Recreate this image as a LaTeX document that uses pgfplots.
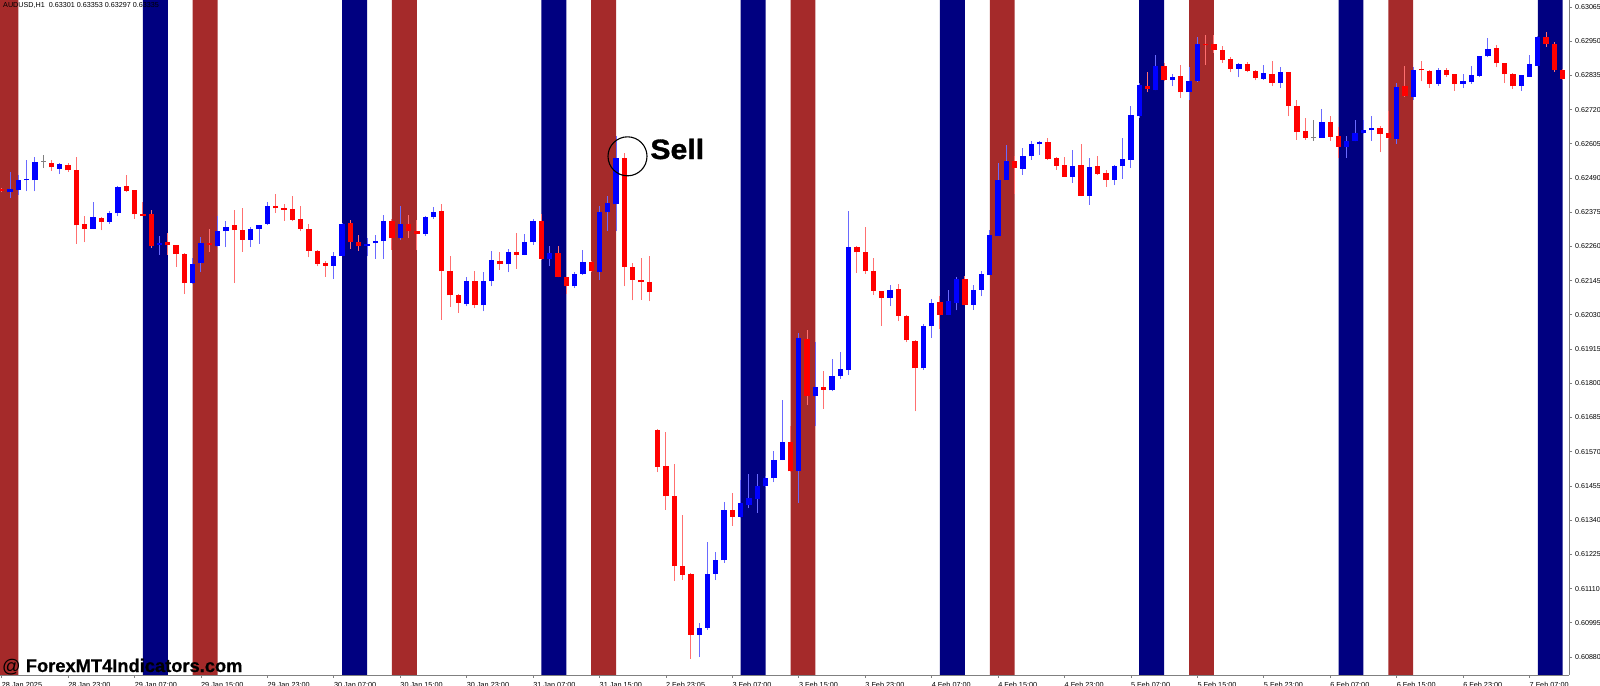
\documentclass[border=0pt]{standalone}
\usepackage{fontspec}
\setmainfont{Liberation Sans}
\newfontfamily\heavyfont{Liberation Sans Bold}[FakeStretch=1.08, FakeBold=1.2]
\newfontfamily\markfont{Liberation Sans Bold}[FakeBold=0.6]
\usepackage{pgfplots}
\usepackage{pgfplotstable}
\pgfplotsset{compat=1.18}

\definecolor{bandnavy}{HTML}{000080}
\definecolor{bandbrown}{HTML}{A52A2A}
\definecolor{wickblue}{HTML}{6A6AFF}
\definecolor{wickred}{HTML}{FF7070}
\definecolor{axgray}{HTML}{808080}

% AUDUSD H1, bar 0 = 28 Jan 15:00; columns: bar, open, high, low, close
% bull candles
\pgfplotstableread{
i o h l c
1 0.62442 0.62510 0.62423 0.62453
2 0.62451 0.62501 0.62434 0.62482
3 0.62482 0.62551 0.62445 0.62486
4 0.62482 0.62560 0.62445 0.62545
7 0.62522 0.62540 0.62503 0.62537
11 0.62320 0.62408 0.62318 0.62358
13 0.62343 0.62380 0.62336 0.62373
14 0.62371 0.62462 0.62361 0.62461
19 0.62265 0.62294 0.62232 0.62271
23 0.62137 0.62221 0.62135 0.62202
24 0.62203 0.62292 0.62174 0.62271
26 0.62260 0.62361 0.62258 0.62311
27 0.62311 0.62344 0.62258 0.62326
30 0.62283 0.62325 0.62257 0.62320
31 0.62318 0.62333 0.62269 0.62332
32 0.62336 0.62411 0.62333 0.62395
40 0.62195 0.62243 0.62150 0.62229
41 0.62229 0.62339 0.62227 0.62336
44 0.62262 0.62288 0.62227 0.62269
45 0.62270 0.62299 0.62218 0.62277
46 0.62277 0.62367 0.62218 0.62346
48 0.62288 0.62397 0.62283 0.62336
51 0.62302 0.62361 0.62296 0.62358
52 0.62358 0.62392 0.62353 0.62376
56 0.62068 0.62156 0.62059 0.62143
58 0.62062 0.62175 0.62042 0.62143
59 0.62143 0.62246 0.62126 0.62213
61 0.62200 0.62253 0.62173 0.62242
63 0.62232 0.62303 0.62230 0.62276
64 0.62274 0.62353 0.62266 0.62346
66 0.62218 0.62260 0.62193 0.62239
69 0.62126 0.62173 0.62120 0.62169
70 0.62169 0.62249 0.62165 0.62208
72 0.62173 0.62397 0.62146 0.62377
73 0.62375 0.62428 0.62313 0.62406
74 0.62402 0.62630 0.62311 0.62557
84 0.60955 0.60995 0.60880 0.60979
85 0.60979 0.61267 0.60972 0.61160
86 0.61160 0.61232 0.61138 0.61207
87 0.61205 0.61400 0.61196 0.61375
89 0.61351 0.61476 0.61347 0.61398
90 0.61392 0.61496 0.61381 0.61415
91 0.61412 0.61496 0.61364 0.61456
92 0.61454 0.61487 0.61452 0.61481
93 0.61481 0.61571 0.61467 0.61543
94 0.61543 0.61745 0.61541 0.61603
96 0.61504 0.61969 0.61398 0.61952
98 0.61756 0.61938 0.61655 0.61786
100 0.61776 0.61883 0.61773 0.61826
101 0.61826 0.61905 0.61816 0.61848
102 0.61844 0.62378 0.61829 0.62257
107 0.62087 0.62131 0.62059 0.62115
111 0.61850 0.62000 0.61846 0.61994
112 0.61991 0.62083 0.61952 0.62070
114 0.62031 0.62112 0.62029 0.62075
115 0.62070 0.62159 0.62045 0.62150
117 0.62064 0.62131 0.62047 0.62115
118 0.62115 0.62176 0.62092 0.62168
119 0.62165 0.62316 0.62163 0.62297
120 0.62296 0.62540 0.62294 0.62484
121 0.62484 0.62602 0.62482 0.62548
123 0.62521 0.62591 0.62501 0.62565
124 0.62563 0.62616 0.62551 0.62604
125 0.62603 0.62613 0.62568 0.62610
129 0.62495 0.62583 0.62475 0.62532
131 0.62430 0.62559 0.62400 0.62526
134 0.62484 0.62533 0.62465 0.62531
135 0.62529 0.62626 0.62488 0.62554
136 0.62551 0.62733 0.62523 0.62703
137 0.62697 0.62809 0.62691 0.62803
139 0.62787 0.62904 0.62785 0.62865
141 0.62820 0.62840 0.62798 0.62831
143 0.62778 0.62862 0.62751 0.62815
144 0.62817 0.62964 0.62812 0.62941
149 0.62857 0.62878 0.62828 0.62874
152 0.62824 0.62871 0.62820 0.62843
154 0.62811 0.62862 0.62792 0.62846
159 0.62626 0.62722 0.62624 0.62680
162 0.62596 0.62630 0.62557 0.62613
163 0.62616 0.62686 0.62613 0.62643
164 0.62641 0.62686 0.62639 0.62650
165 0.62650 0.62699 0.62616 0.62658
168 0.62622 0.62811 0.62605 0.62796
170 0.62764 0.62862 0.62753 0.62854
173 0.62807 0.62859 0.62800 0.62854
176 0.62807 0.62839 0.62792 0.62815
177 0.62812 0.62868 0.62807 0.62837
178 0.62834 0.62901 0.62831 0.62899
179 0.62899 0.62960 0.62897 0.62924
183 0.62800 0.62837 0.62784 0.62835
184 0.62831 0.62902 0.62829 0.62873
185 0.62868 0.62966 0.62865 0.62964
}\bull

% bear candles
\pgfplotstableread{
i o h l c
0 0.62454 0.62456 0.62443 0.62445
6 0.62542 0.62551 0.62515 0.62526
8 0.62535 0.62540 0.62510 0.62516
9 0.62517 0.62560 0.62269 0.62331
10 0.62335 0.62361 0.62274 0.62320
12 0.62355 0.62359 0.62314 0.62343
15 0.62462 0.62500 0.62442 0.62447
16 0.62449 0.62451 0.62353 0.62368
17 0.62370 0.62410 0.62361 0.62364
18 0.62368 0.62381 0.62255 0.62260
20 0.62275 0.62305 0.62232 0.62264
21 0.62264 0.62266 0.62191 0.62234
22 0.62234 0.62238 0.62100 0.62137
25 0.62271 0.62318 0.62243 0.62265
28 0.62333 0.62383 0.62137 0.62315
29 0.62316 0.62389 0.62243 0.62283
33 0.62395 0.62437 0.62372 0.62388
34 0.62388 0.62402 0.62346 0.62383
35 0.62386 0.62430 0.62344 0.62350
36 0.62353 0.62397 0.62311 0.62320
37 0.62320 0.62336 0.62223 0.62246
38 0.62246 0.62249 0.62193 0.62202
39 0.62206 0.62210 0.62159 0.62195
42 0.62340 0.62350 0.62252 0.62274
43 0.62276 0.62299 0.62246 0.62260
47 0.62344 0.62352 0.62249 0.62288
49 0.62336 0.62367 0.62288 0.62313
50 0.62313 0.62350 0.62249 0.62302
53 0.62380 0.62404 0.62014 0.62176
54 0.62178 0.62229 0.62056 0.62096
55 0.62098 0.62101 0.62036 0.62070
57 0.62143 0.62176 0.62053 0.62062
60 0.62212 0.62243 0.62182 0.62200
62 0.62242 0.62305 0.62185 0.62232
65 0.62344 0.62370 0.62216 0.62218
67 0.62238 0.62260 0.62156 0.62159
68 0.62157 0.62159 0.62101 0.62126
71 0.62208 0.62210 0.62174 0.62176
75 0.62557 0.62574 0.62126 0.62191
76 0.62190 0.62204 0.62079 0.62148
77 0.62148 0.62221 0.62081 0.62139
78 0.62141 0.62227 0.62075 0.62106
79 0.61644 0.61646 0.61501 0.61519
80 0.61521 0.61636 0.61375 0.61420
81 0.61420 0.61530 0.61135 0.61185
82 0.61187 0.61359 0.61140 0.61157
83 0.61160 0.61163 0.60874 0.60955
88 0.61375 0.61431 0.61322 0.61351
95 0.61602 0.61655 0.61501 0.61504
97 0.61950 0.61978 0.61728 0.61756
99 0.61786 0.61840 0.61715 0.61779
103 0.62258 0.62260 0.62171 0.62240
104 0.62243 0.62324 0.62168 0.62176
105 0.62176 0.62221 0.62098 0.62111
106 0.62109 0.62111 0.61994 0.62087
108 0.62117 0.62135 0.62008 0.62027
109 0.62027 0.62031 0.61938 0.61944
110 0.61943 0.61947 0.61706 0.61850
113 0.62072 0.62094 0.61982 0.62031
116 0.62152 0.62162 0.62062 0.62064
122 0.62546 0.62563 0.62437 0.62523
126 0.62610 0.62624 0.62551 0.62555
127 0.62557 0.62560 0.62518 0.62531
128 0.62535 0.62560 0.62493 0.62495
130 0.62535 0.62605 0.62428 0.62430
132 0.62529 0.62565 0.62501 0.62503
133 0.62507 0.62516 0.62460 0.62484
138 0.62800 0.62848 0.62778 0.62789
140 0.62867 0.62878 0.62817 0.62820
142 0.62834 0.62871 0.62759 0.62778
145 0.62941 0.62971 0.62871 0.62937
146 0.62941 0.62971 0.62910 0.62921
147 0.62921 0.62934 0.62878 0.62887
148 0.62890 0.62896 0.62845 0.62857
150 0.62873 0.62880 0.62845 0.62850
151 0.62850 0.62852 0.62818 0.62826
153 0.62840 0.62884 0.62798 0.62811
155 0.62846 0.62848 0.62697 0.62733
156 0.62733 0.62753 0.62619 0.62644
157 0.62647 0.62691 0.62619 0.62626
160 0.62678 0.62697 0.62616 0.62628
161 0.62630 0.62660 0.62557 0.62596
166 0.62658 0.62666 0.62576 0.62639
167 0.62641 0.62714 0.62621 0.62624
169 0.62798 0.62865 0.62764 0.62766
171 0.62856 0.62882 0.62815 0.62852
172 0.62850 0.62854 0.62792 0.62807
174 0.62854 0.62859 0.62829 0.62837
175 0.62839 0.62840 0.62784 0.62807
180 0.62927 0.62938 0.62862 0.62876
181 0.62876 0.62878 0.62809 0.62839
182 0.62839 0.62843 0.62789 0.62798
186 0.62964 0.62980 0.62932 0.62941
187 0.62941 0.62946 0.62848 0.62852
188 0.62852 0.62856 0.62818 0.62824
}\bear

% doji candles (open = close)
\pgfplotstableread{
i o h l c
5 0.62545 0.62566 0.62523 0.62545
158 0.62626 0.62686 0.62616 0.62626
}\doji

\begin{document}
\begin{tikzpicture}
% session bands (indicator histogram, value 1 over the whole height)
\begin{axis}[at={(0,0)}, anchor=south west, scale only axis,
  width=1569bp, height=675bp,
  xmin=-0.205, xmax=188.76, ymin=0, ymax=1, hide axis]
  \addplot[ybar, bar width=3, bar shift=0pt, fill=bandnavy, draw=none]
    coordinates {(18.5,1) (42.5,1) (66.5,1) (90.5,1) (114.5,1) (138.5,1) (162.5,1) (186.5,1)};
  \addplot[ybar, bar width=3, bar shift=0pt, fill=bandbrown, draw=none]
    coordinates {(0.5,1) (24.5,1) (48.5,1) (72.5,1) (96.5,1) (120.5,1) (144.5,1) (168.5,1)};
\end{axis}

\begin{axis}[at={(0,0)}, anchor=south west, scale only axis,
  width=1569bp, height=675bp,
  xmin=-0.205, xmax=188.76, ymin=0.608195, ymax=0.630885,
  axis x line*=bottom, axis y line*=right,
  axis line style={axgray, line width=1bp, -},
  tick align=outside, major tick length=3bp,
  tick style={axgray, line width=0.8bp},
  yticklabel pos=right,
  xtick={0,8,...,184},
  xticklabels={28 Jan 2025, 28 Jan 23:00, 29 Jan 07:00, 29 Jan 15:00, 29 Jan 23:00,
    30 Jan 07:00, 30 Jan 15:00, 30 Jan 23:00, 31 Jan 07:00, 31 Jan 15:00,
    2 Feb 23:05, 3 Feb 07:00, 3 Feb 15:00, 3 Feb 23:00, 4 Feb 07:00, 4 Feb 15:00,
    4 Feb 23:00, 5 Feb 07:00, 5 Feb 15:00, 5 Feb 23:00, 6 Feb 07:00, 6 Feb 15:00,
    6 Feb 23:00, 7 Feb 07:00},
  ytick={0.60880,0.60995,0.61110,0.61225,0.61340,0.61455,0.61570,0.61685,0.61800,0.61915,
    0.62030,0.62145,0.62260,0.62375,0.62490,0.62605,0.62720,0.62835,0.62950,0.63065},
  yticklabels={0.60880,0.60995,0.61110,0.61225,0.61340,0.61455,0.61570,0.61685,0.61800,0.61915,
    0.62030,0.62145,0.62260,0.62375,0.62490,0.62605,0.62720,0.62835,0.62950,0.63065},
  tick label style={font=\fontsize{7.3bp}{8bp}\selectfont, text=black},
  xticklabel style={anchor=north west, inner sep=0pt, yshift=-4bp, xshift=0pt},
  yticklabel style={anchor=west, inner sep=0pt, xshift=3bp, font=\fontsize{7.1bp}{8bp}\selectfont},
]
  % wicks: low to high
  \addplot[wickblue, line width=1bp, quiver={u=0, v=\thisrow{h}-\thisrow{l}}, -]
    table[x=i, y=l] {\bull};
  \addplot[wickred, line width=1bp, quiver={u=0, v=\thisrow{h}-\thisrow{l}}, -]
    table[x=i, y=l] {\bear};
  \addplot[gray, line width=1bp, quiver={u=0, v=\thisrow{h}-\thisrow{l}}, -]
    table[x=i, y=l] {\doji};
  % bodies: open to close
  \addplot[blue, line width=5.3bp, quiver={u=0, v=\thisrow{c}-\thisrow{o}}, -]
    table[x=i, y=o] {\bull};
  \addplot[red, line width=5.3bp, quiver={u=0, v=\thisrow{o}-\thisrow{c}}, -]
    table[x=i, y=c] {\bear};
  \addplot[only marks, mark=-, mark size=2.65bp, mark options={line width=1.2bp, gray}]
    table[x=i, y=o] {\doji};

  % signal mark
  \draw[black, line width=1.1bp] (axis cs:75.37,0.62563) circle[radius=19.5bp];
  \node[anchor=base west, inner sep=0pt, font=\fontsize{28bp}{30bp}\heavyfont]
    at (axis cs:78.1,0.62554) {Sell};

  \node[anchor=north west, inner sep=0pt, font=\fontsize{7.2bp}{8bp}\selectfont]
    at ([xshift=3bp, yshift=-2bp]rel axis cs:0,1) {AUDUSD,H1\ \ 0.63301 0.63353 0.63297 0.63335};
  \node[anchor=base west, inner sep=0pt, font=\fontsize{18.3bp}{20bp}\selectfont]
    at ([xshift=2bp, yshift=3bp]rel axis cs:0,0) {@ {\markfont ForexMT4Indicators.com}};
\end{axis}
\pgfresetboundingbox
\path[use as bounding box] (0,-11bp) rectangle (1600bp,675bp);
\end{tikzpicture}
\end{document}
